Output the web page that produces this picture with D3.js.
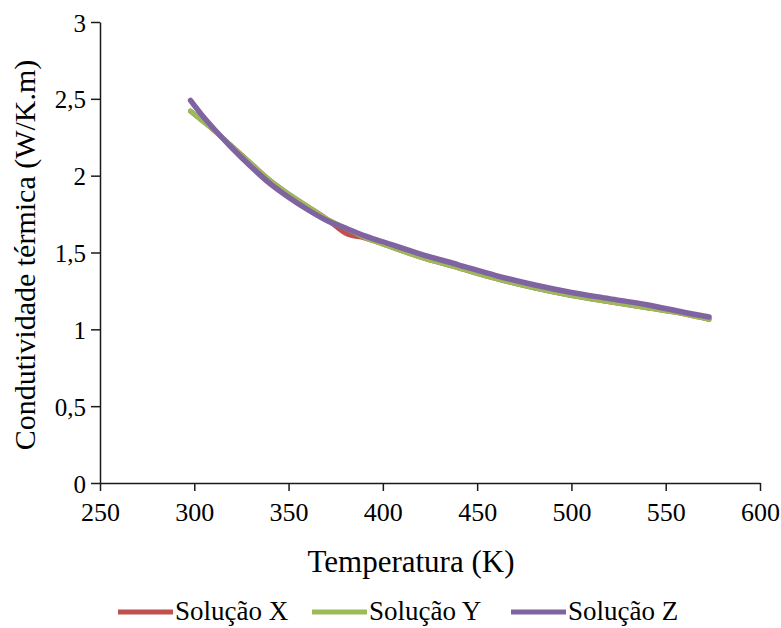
<!DOCTYPE html>
<html><head><meta charset="utf-8">
<script src="https://cdn.jsdelivr.net/npm/d3@7"></script>
<style>body{margin:0;background:#fff}svg{display:block}
svg text{font-family:"Liberation Serif","Times New Roman",Times,"DejaVu Serif",serif;}</style>
</head><body>
<svg id="c" width="781" height="628"></svg>
<script>
const temps = [298,305,310,320,330,340,350,360,370,381,390,400,420,440,460,480,500,520,540,560,573];
const solX = [2.42,2.35,2.30,2.19,2.08,1.97,1.88,1.80,1.72,1.62,1.595,1.555,1.47,1.40,1.33,1.27,1.22,1.18,1.14,1.10,1.065];
const solY = [2.42,2.35,2.30,2.19,2.08,1.97,1.88,1.80,1.72,1.655,1.60,1.555,1.47,1.40,1.33,1.27,1.22,1.18,1.14,1.10,1.065];
const solZ = [2.49,2.38,2.31,2.18,2.06,1.95,1.86,1.78,1.71,1.655,1.61,1.57,1.49,1.42,1.35,1.29,1.24,1.20,1.16,1.11,1.08];
const seriesNames = ["Solução X","Solução Y","Solução Z"];
const colors = ["#C0504D","#9BBB59","#8064A2"];
const xTicks = [250,300,350,400,450,500,550,600];
const yTicks = [0,0.5,1,1.5,2,2.5,3];

const svg = d3.select("#c");
const x = d3.scaleLinear().domain([250,600]).range([100,760]);
const y = d3.scaleLinear().domain([0,3]).range([483,22]);

const xa = svg.append("g").attr("transform","translate(0,483)")
  .call(d3.axisBottom(x).tickValues(xTicks).tickSize(8).tickSizeOuter(0).tickPadding(12).tickFormat(d3.format("d")));
const ya = svg.append("g").attr("transform","translate(100,0)")
  .call(d3.axisLeft(y).tickValues(yTicks).tickSize(9).tickSizeOuter(0).tickPadding(5)
    .tickFormat(d => String(d).replace(".",",")));
[xa,ya].forEach(a=>{
  a.attr("font-family",null);
  a.selectAll("path,line").attr("stroke","#1a1a1a").attr("stroke-width",1.5);
  a.selectAll("text").attr("fill","#000");
});
xa.selectAll("text").attr("font-size",26);
ya.selectAll("text").attr("font-size",25).attr("dy","0.36em");

const line = d3.line().x((d,i)=>x(temps[i])).y(d=>y(d)).curve(d3.curveMonotoneX);
[solX,solY,solZ].forEach((s,i)=>{
  svg.append("path").datum(s).attr("d",line).attr("fill","none")
    .attr("stroke",colors[i]).attr("stroke-width",i===2?5.5:5).attr("stroke-linecap","round").attr("stroke-linejoin","round");
});

svg.append("text").attr("x",411).attr("y",572).attr("text-anchor","middle")
  .attr("font-size",31).text("Temperatura  (K)");
svg.append("text").attr("transform","translate(35,255) rotate(-90)").attr("text-anchor","middle")
  .attr("font-size",30).text("Condutividade térmica  (W/K.m)");

const legX = [118,312,511];
seriesNames.forEach((n,i)=>{
  svg.append("line").attr("x1",legX[i]).attr("x2",legX[i]+55).attr("y1",612).attr("y2",612)
    .attr("stroke",colors[i]).attr("stroke-width",5);
  svg.append("text").attr("x",legX[i]+57).attr("y",620).attr("font-size",27).text(n);
});
</script>
</body></html>
